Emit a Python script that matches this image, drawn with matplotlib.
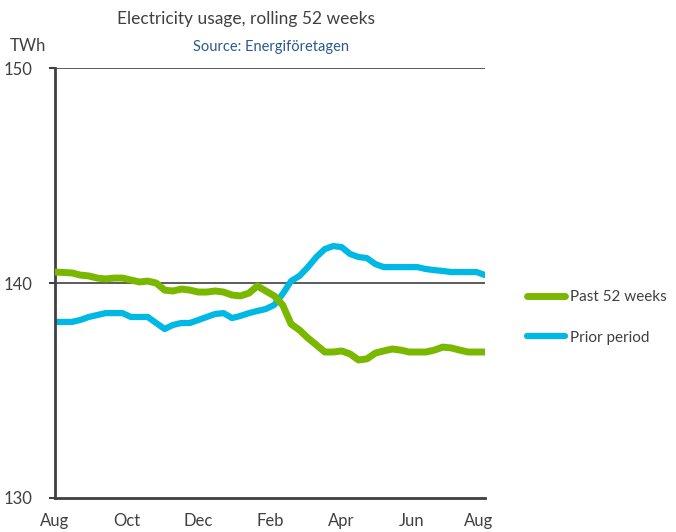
import matplotlib
matplotlib.use("Agg")
import matplotlib.pyplot as plt
import numpy as np

plt.rcParams['font.family'] = ['Lato', 'DejaVu Sans']

# weekly values, TWh (rolling 52 weeks)
past_52 = [140.51, 140.49, 140.47, 140.37, 140.33, 140.23, 140.19, 140.23, 140.23, 140.14,
           140.05, 140.09, 140.00, 139.67, 139.63, 139.72, 139.67, 139.58, 139.58, 139.63,
           139.58, 139.44, 139.40, 139.53, 139.86, 139.63, 139.40, 138.98, 138.09, 137.81,
           137.44, 137.12, 136.79, 136.79, 136.84, 136.70, 136.42, 136.47, 136.74, 136.84,
           136.93, 136.88, 136.79, 136.79, 136.79, 136.88, 137.02, 136.98, 136.88, 136.79,
           136.79, 136.79]
prior = [138.19, 138.19, 138.19, 138.28, 138.42, 138.51, 138.60, 138.60, 138.60, 138.42,
         138.42, 138.42, 138.14, 137.86, 138.05, 138.14, 138.14, 138.28, 138.42, 138.56,
         138.60, 138.37, 138.47, 138.60, 138.70, 138.79, 138.98, 139.49, 140.09, 140.33,
         140.74, 141.21, 141.58, 141.72, 141.67, 141.35, 141.21, 141.16, 140.88, 140.74,
         140.74, 140.74, 140.74, 140.74, 140.65, 140.60, 140.56, 140.51, 140.51, 140.51,
         140.51, 140.37]
month_labels = ['Aug', 'Oct', 'Dec', 'Feb', 'Apr', 'Jun', 'Aug']
month_weeks = [0, 8.5, 17, 25.5, 34, 42.3, 50.3]

weeks = np.arange(len(past_52))

fig = plt.figure(figsize=(6.76, 5.32), dpi=100)
ax = fig.add_axes([0.0814, 0.064, 0.636, 0.808])

for y in (140, 150):
    ax.axhline(y, color='#404040', lw=1.2, zorder=1)

ax.plot(weeks, past_52, color='#7ab800', lw=5, solid_capstyle='round',
        label='Past 52 weeks', zorder=3)
ax.plot(weeks, prior, color='#00b8e4', lw=4.5, solid_capstyle='round',
        label='Prior period', zorder=2)

ax.set_xlim(0, 51)
ax.set_ylim(130, 150)
ax.set_yticks([130, 140, 150])
ax.set_xticks(month_weeks)
ax.set_xticklabels(month_labels)
ax.tick_params(axis='x', length=0, pad=11, labelsize=12, colors='#404040')
ax.tick_params(axis='y', length=4, width=1.5, pad=12, labelsize=12,
               colors='#404040', direction='out')

for s in ('top', 'right'):
    ax.spines[s].set_visible(False)
for s in ('left', 'bottom'):
    ax.spines[s].set_color('#404040')
    ax.spines[s].set_linewidth(2)

fig.text(0.364, 0.965, 'Electricity usage, rolling 52 weeks', ha='center', va='center',
         fontsize=12.5, color='#404040')
fig.text(0.401, 0.911, 'Source: Energiföretagen', ha='center', va='center',
         fontsize=10.5, color='#2a5a8c')
fig.text(0.015, 0.913, 'TWh', ha='left', va='center', fontsize=12, color='#404040')

ax.legend(loc='center left', bbox_to_anchor=(1.066, 0.42), frameon=False,
          handlelength=2.5, labelspacing=1.75, fontsize=11, labelcolor='#404040',
          handletextpad=0.3)

fig.savefig('out.png', dpi=100)
